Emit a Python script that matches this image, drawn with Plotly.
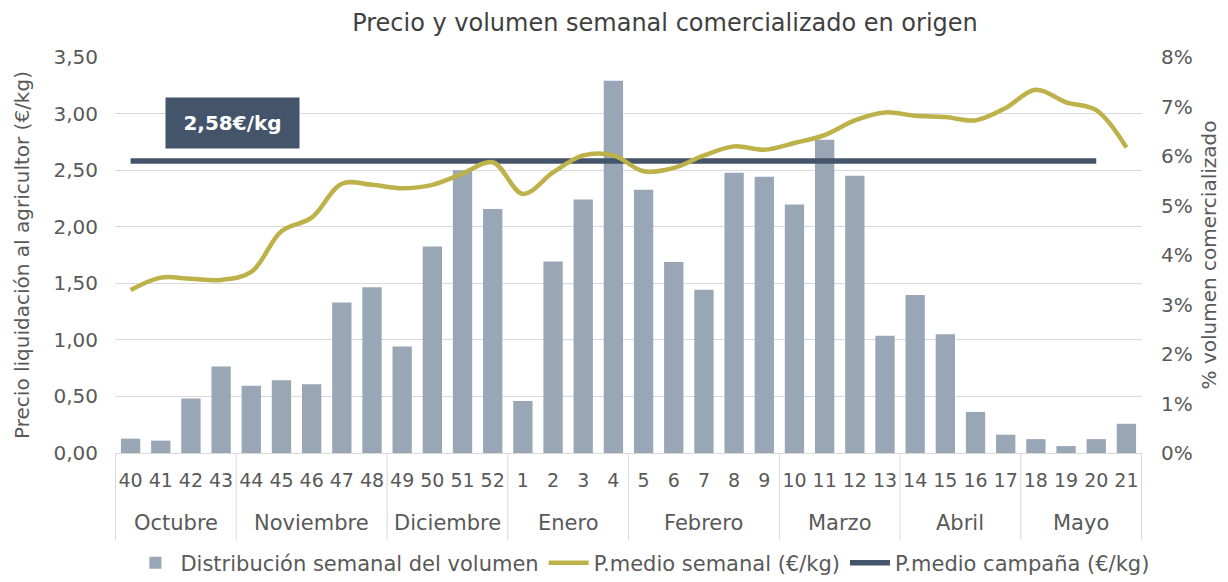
import plotly.graph_objects as go

months = ["Octubre"] * 4 + ["Noviembre"] * 5 + ["Diciembre"] * 4 + ["Enero"] * 4 + \
         ["Febrero"] * 5 + ["Marzo"] * 4 + ["Abril"] * 4 + ["Mayo"] * 4
weeks = ["40", "41", "42", "43", "44", "45", "46", "47", "48", "49", "50", "51", "52",
         "1", "2", "3", "4", "5", "6", "7", "8", "9", "10", "11", "12", "13",
         "14", "15", "16", "17", "18", "19", "20", "21"]
volume_pct = [0.29, 0.25, 1.10, 1.75, 1.36, 1.47, 1.39, 3.04, 3.35, 2.15, 4.17, 5.71, 4.93,
              1.05, 3.87, 5.12, 7.52, 5.32, 3.86, 3.30, 5.66, 5.58, 5.02, 6.33, 5.60, 2.37,
              3.19, 2.40, 0.83, 0.37, 0.28, 0.14, 0.28, 0.59]
weekly_price = [1.44, 1.55, 1.54, 1.53, 1.60, 1.96, 2.08, 2.38, 2.37, 2.34, 2.37, 2.47, 2.57,
                2.29, 2.48, 2.63, 2.63, 2.49, 2.52, 2.63, 2.71, 2.68, 2.74, 2.81, 2.94, 3.01,
                2.98, 2.97, 2.94, 3.05, 3.21, 3.10, 3.03, 2.70]
campaign_price = 2.58
campaign_weeks = 33  # campaign line covers weeks 40 .. 20
campaign_label = "2,58€/kg"

GRAY = "#595959"
FONT = "DejaVu Sans"

fig = go.Figure()
fig.add_trace(go.Bar(
    x=weeks, y=volume_pct, name="Distribución semanal del volumen",
    marker=dict(color="#98A6B6", line=dict(width=0)), yaxis="y", legendrank=1,
))
fig.add_trace(go.Scatter(
    x=weeks[:campaign_weeks], y=[campaign_price] * campaign_weeks,
    mode="lines", name="P.medio campaña (€/kg)", line=dict(color="#44546A", width=5.5),
    yaxis="y2", legendrank=3,
))
fig.add_trace(go.Scatter(
    x=weeks, y=weekly_price, mode="lines", name="P.medio semanal (€/kg)",
    line=dict(color="#BDB24A", width=4.5, shape="spline", smoothing=1.0),
    yaxis="y2", legendrank=2,
))

# month group labels and dividers, derived from the months list
groups = []
start = 0
for i in range(1, len(months) + 1):
    if i == len(months) or months[i] != months[start]:
        groups.append((months[start], start, i - 1))
        start = i
shapes = []
for name, s, e in groups:
    fig.add_annotation(xref="x", yref="paper", x=(s + e) / 2, y=-0.177,
                       text=name, showarrow=False, yanchor="middle",
                       font=dict(size=21, color=GRAY, family=FONT))
    shapes.append(dict(type="line", xref="x", yref="paper", x0=s - 0.5, x1=s - 0.5,
                       y0=0, y1=-0.22, line=dict(color="#D9D9D9", width=1)))
shapes.append(dict(type="line", xref="x", yref="paper", x0=len(weeks) - 0.5,
                   x1=len(weeks) - 0.5, y0=0, y1=-0.22, line=dict(color="#D9D9D9", width=1)))

fig.add_annotation(
    xref="paper", yref="y2", x=0.114, y=2.92, xanchor="center", yanchor="middle",
    text="<b>" + campaign_label + "</b>",
    showarrow=False, bgcolor="#44546A", width=127, height=44,
    font=dict(color="white", size=20, family=FONT), borderpad=3,
)

fig.update_layout(
    width=1220, height=574,
    paper_bgcolor="white", plot_bgcolor="white",
    separators=",.",
    font=dict(family=FONT, color=GRAY, size=20),
    margin=dict(l=107, r=86, t=49, b=129, autoexpand=False),
    title=dict(text="Precio y volumen semanal comercializado en origen",
               x=0.5385, xref="container", xanchor="center", y=0.974, yanchor="middle",
               font=dict(size=24, color="#404040", family=FONT)),
    bargap=0.36,
    showlegend=True,
    shapes=shapes,
    legend=dict(orientation="h", x=0.52, xref="container", xanchor="center",
                y=0.033, yref="container", yanchor="middle",
                font=dict(size=21, color=GRAY), itemwidth=40, tracegroupgap=0),
    xaxis=dict(type="category", categoryorder="array", categoryarray=weeks,
               showgrid=False, ticks="", showline=False, automargin=False,
               ticklabelstandoff=14, tickfont=dict(size=19, color=GRAY)),
    yaxis=dict(range=[0, 8], dtick=1, ticksuffix="%", side="right", showgrid=False,
               zeroline=False, ticklabelstandoff=18, automargin=False,
               tickfont=dict(size=20, color=GRAY),
               title=dict(text="% volumen comercializado", font=dict(size=20, color=GRAY),
                          standoff=10)),
    yaxis2=dict(range=[0, 3.5], dtick=0.5, tickformat=".2f", side="left", overlaying="y",
                showgrid=True, gridcolor="#D9D9D9", gridwidth=1, zeroline=True,
                zerolinecolor="#D9D9D9", zerolinewidth=1, ticklabelstandoff=16,
                automargin=False, tickfont=dict(size=20, color=GRAY),
                title=dict(text="Precio liquidación al agricultor (€/kg)",
                           font=dict(size=20, color=GRAY), standoff=18)),
)

fig.write_html("out.html")
